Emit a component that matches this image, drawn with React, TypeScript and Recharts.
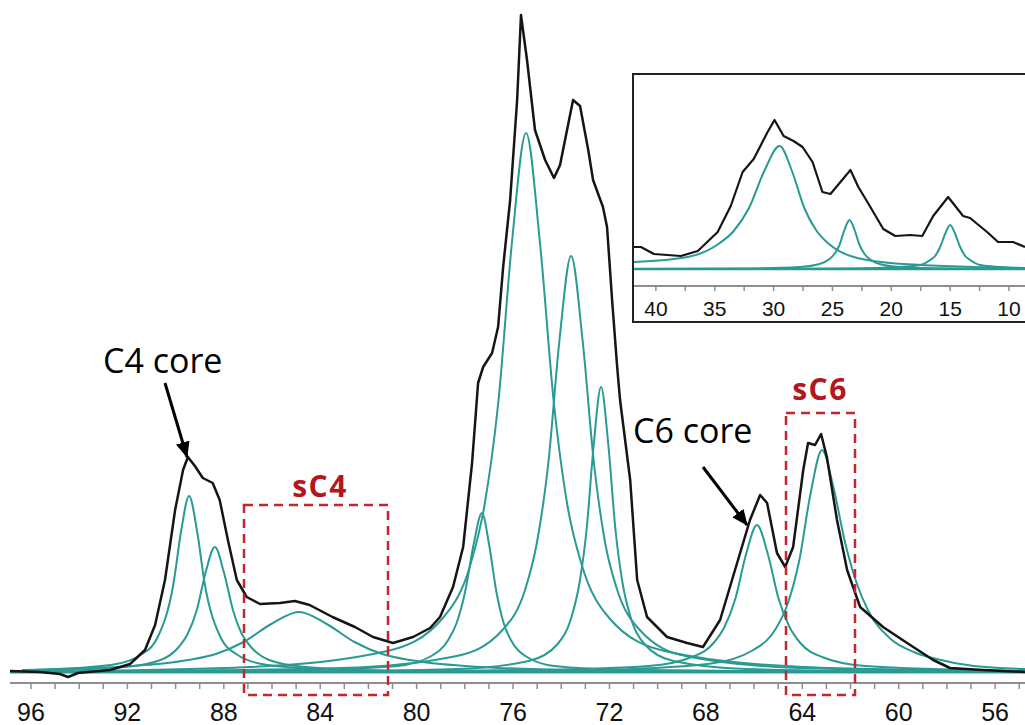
import { ComposedChart, Line, XAxis, YAxis } from 'recharts';

type Pt = [number, number];

// main spectrum, ppm vs intensity (baseline = 0)
const mainSpectrum: Pt[] = [
  [96.87, 1], [95.63, 0], [94.8, -2], [94.46, -5], [94.05, -1], [92.72, 2], [91.89, 8],
  [91.27, 22], [90.85, 47], [90.44, 92], [90.02, 162], [89.69, 202], [89.49, 215], [89.2, 206],
  [88.87, 194], [88.46, 189], [88.17, 172], [87.83, 132], [87.46, 92], [87.05, 75], [86.5, 68],
  [85.67, 69], [85.05, 71], [84.44, 67], [83.49, 55], [82.56, 45], [81.81, 35], [80.98, 29],
  [80.15, 35], [79.44, 44], [79.03, 55], [78.49, 85], [78.07, 125], [77.7, 209], [77.45, 289],
  [77.24, 305], [76.87, 319], [76.62, 345], [76.41, 405], [76.12, 472], [75.83, 572], [75.67, 657],
  [75.42, 612], [75.09, 542], [74.67, 512], [74.3, 494], [74.05, 507], [73.51, 572], [73.22, 566],
  [72.88, 522], [72.68, 492], [72.27, 465], [72.1, 445], [71.89, 372], [71.68, 305], [71.56, 272],
  [71.14, 192], [70.85, 92], [70.44, 55], [69.61, 35], [68.78, 29], [68.12, 25], [67.41, 52],
  [66.58, 119], [66.17, 152], [65.75, 177], [65.46, 169], [65.05, 119], [64.71, 105], [64.38, 125],
  [63.96, 202], [63.76, 229], [63.47, 227], [63.22, 238], [62.98, 215], [62.56, 152], [62.14, 102],
  [61.6, 65], [60.65, 45], [59.65, 29], [58.57, 12], [57.87, 4], [56.5, 2], [54.76, 0],
];

// fitted components
const fitC4a: Pt[] = [
  [95.94, 2], [92.69, 7], [91.39, 18], [90.74, 35], [90.09, 88], [89.77, 141], [89.44, 176],
  [89.11, 141], [88.79, 88], [88.14, 35], [87.49, 18], [86.19, 7], [82.94, 2], [76, 0],
];
const fitC4b: Pt[] = [
  [95.87, 1], [92.12, 5], [90.62, 12], [89.87, 25], [89.5, 38], [89.12, 62], [88.75, 100],
  [88.37, 125], [88.0, 100], [87.62, 62], [87.25, 38], [86.87, 25], [86.12, 12], [84.62, 5],
  [80.87, 1], [74, 0],
];
const fitSC4: Pt[] = [
  [96.38, 2], [91.78, 6], [89.48, 12], [88.33, 18], [87.18, 30], [86.03, 48], [84.88, 60],
  [83.73, 48], [82.58, 30], [81.43, 18], [80.28, 12], [77.98, 6], [73.38, 2], [60, 0],
];
const fitC23a: Pt[] = [
  [90, 0], [84.29, 2], [80.79, 6], [79.39, 16], [78.69, 32], [78.34, 49], [77.99, 80], [77.64, 127],
  [77.29, 159], [76.99, 127], [76.69, 80], [76.39, 49], [76.09, 32], [75.49, 16], [74.29, 6],
  [71.29, 2], [62, 0],
];
const fitC23b: Pt[] = [
  [94, 1], [86.96, 5], [81.21, 21], [78.91, 54], [77.76, 108], [77.19, 166], [76.61, 270],
  [76.04, 431], [75.46, 539], [74.89, 431], [74.31, 270], [73.74, 166], [73.16, 108], [72.01, 54],
  [69.71, 21], [63.96, 5], [56, 1],
];
const fitC23c: Pt[] = [
  [92, 1], [83.09, 4], [78.34, 16], [76.44, 42], [75.49, 83], [75.02, 128], [74.54, 208],
  [74.07, 333], [73.59, 416], [73.12, 333], [72.64, 208], [72.17, 128], [71.69, 83], [70.74, 42],
  [68.84, 16], [64.09, 4], [56, 1],
];
const fitC5: Pt[] = [
  [86, 0], [78.35, 3], [75.35, 11], [74.15, 28], [73.55, 57], [73.25, 88], [72.95, 142], [72.65, 228],
  [72.35, 285], [72.05, 228], [71.75, 142], [71.45, 88], [71.15, 57], [70.55, 28], [69.35, 11],
  [66.35, 3], [58, 0],
];
const fitC6: Pt[] = [
  [84, 0], [74.88, 2], [70.38, 6], [68.58, 15], [67.68, 29], [67.23, 45], [66.78, 73], [66.33, 118],
  [65.88, 147], [65.43, 118], [64.98, 73], [64.53, 45], [64.08, 29], [63.18, 15], [61.38, 6],
  [56.88, 2], [54.76, 1],
];
const fitSC6: Pt[] = [
  [82, 0], [72.68, 2], [67.93, 8], [66.03, 22], [65.08, 44], [64.61, 68], [64.13, 111], [63.66, 178],
  [63.18, 222], [62.71, 185], [62.23, 130], [61.76, 90], [61.28, 62], [60.33, 33], [59.38, 20],
  [58.43, 13], [56.88, 6], [54.76, 3],
];
const mainBaseline: Pt[] = [[96.87, 0], [54.76, 0]];
const mainFits = [fitC4a, fitC4b, fitSC4, fitC23a, fitC23b, fitC23c, fitC5, fitC6, fitSC6];

const mainTicks = Array.from({ length: 42 }, (_, i) => 55 + i);
const mainLabels = [96, 92, 88, 84, 80, 76, 72, 68, 64, 60, 56];

// inset: alkyl region
const insetSpectrum: Pt[] = [
  [41.86, 22], [41.27, 22], [40.17, 15], [37.88, 13], [36.44, 18], [34.75, 37], [33.64, 63],
  [32.63, 97], [31.69, 110], [30.51, 137], [29.92, 149], [29.15, 133], [28.31, 128], [27.54, 122],
  [26.69, 107], [25.85, 77], [25.17, 75], [23.47, 99], [22.8, 82], [22.03, 67], [20.68, 40],
  [19.66, 33], [18.39, 34], [17.37, 33], [16.44, 53], [15.17, 72], [13.9, 53], [13.31, 51],
  [11.86, 37], [10.93, 27], [9.66, 27], [8.64, 22],
];
const insetFitA: Pt[] = [
  [41.86, 7], [37.29, 12], [34.69, 25], [33.39, 38], [32.09, 61], [30.79, 98], [29.49, 123],
  [28.44, 98], [27.39, 61], [26.34, 38], [25.29, 25], [23.19, 12], [18.99, 5], [8.64, 1],
];
const insetFitB: Pt[] = [
  [41.86, 0], [32.05, 0.5], [27.8, 2], [26.1, 5], [25.25, 10], [24.83, 15], [24.4, 24], [23.98, 39],
  [23.55, 49], [23.12, 39], [22.7, 24], [22.27, 15], [21.85, 10], [21.0, 5], [19.3, 2],
  [15.05, 0.5], [8.64, 0],
];
const insetFitC: Pt[] = [
  [35, 0], [23.5, 0.5], [19.25, 2], [17.55, 4], [16.7, 9], [16.28, 13], [15.85, 22], [15.43, 35],
  [15.0, 44], [14.57, 35], [14.15, 22], [13.72, 13], [13.3, 9], [12.45, 4], [10.75, 2], [8.64, 1],
];
const insetBaseline: Pt[] = [[41.86, 0], [8.64, 0]];
const insetFits = [insetFitA, insetFitB, insetFitC];

const insetTicks = [10, 12.5, 15, 17.5, 20, 22.5, 25, 27.5, 30, 32.5, 35, 37.5, 40];
const insetLabels = [10, 15, 20, 25, 30, 35, 40];

const TEAL = '#2a9a94';
const BLACK = '#151515';
const RED = '#c4262e';
const AXIS = '#8e8e8e';

const toRows = (pts: Pt[]) => pts.map(([ppm, v]) => ({ ppm, v }));

const MainTick = (props: any) => {
  const { x, y, payload } = props;
  const v = payload.value;
  return (
    <g>
      <line x1={x} x2={x} y1={y} y2={y + 6} stroke={AXIS} strokeWidth={1.5} />
      {mainLabels.includes(v) && (
        <text x={x} y={y + 38} textAnchor="middle" fontSize={25} fill="#111"
          fontFamily="'Liberation Sans', Arial, sans-serif">{v}</text>
      )}
    </g>
  );
};

const InsetTick = (props: any) => {
  const { x, y, payload } = props;
  const v = payload.value;
  return (
    <g>
      <line x1={x} x2={x} y1={y} y2={y + 5} stroke={AXIS} strokeWidth={1.5} />
      {insetLabels.includes(v) && (
        <text x={x} y={y + 30} textAnchor="middle" fontSize={21} fill="#111"
          fontFamily="'Liberation Sans', Arial, sans-serif">{v}</text>
      )}
    </g>
  );
};

export default function App() {
  const font = "'Open Sans', 'Noto Sans', sans-serif";
  return (
    <div style={{ position: 'absolute', left: 0, top: 0, width: 1025, height: 725, overflow: 'hidden', background: '#fff' }}>
      <ComposedChart width={1025} height={725} margin={{ top: 10, right: 0, left: 10, bottom: 0 }}>
        <XAxis type="number" dataKey="ppm" domain={[54.76, 96.87]} reversed allowDataOverflow
          ticks={mainTicks} interval={0} tickSize={0} tickMargin={0} height={42}
          stroke={AXIS} strokeWidth={2} tick={<MainTick />} />
        <YAxis type="number" dataKey="v" domain={[-11, 662]} hide allowDataOverflow />
        <Line data={toRows(mainBaseline)} dataKey="v" type="linear" stroke={TEAL} strokeWidth={3}
          dot={false} activeDot={false} isAnimationActive={false} />
        {mainFits.map((f, i) => (
          <Line key={`fit-${i}`} data={toRows(f)} dataKey="v" type="monotone" stroke={TEAL} strokeWidth={2}
            dot={false} activeDot={false} isAnimationActive={false} />
        ))}
        <Line data={toRows(mainSpectrum)} dataKey="v" type="linear" stroke={BLACK} strokeWidth={2.5}
          strokeLinejoin="round" dot={false} activeDot={false} isAnimationActive={false} />
      </ComposedChart>

      {/* annotations */}
      <svg width={1025} height={725} style={{ position: 'absolute', left: 0, top: 0, pointerEvents: 'none' }}>
        <defs>
          <marker id="head" markerUnits="userSpaceOnUse" markerWidth={16} markerHeight={14}
            refX={15} refY={7} orient="auto">
            <path d="M0,0 L16,7 L0,14 z" fill="#000" />
          </marker>
        </defs>
        <text x={103} y={373} fontSize={34} fontFamily={font} fill="#000">C4 core</text>
        <line x1={165} y1={383} x2={187} y2={457} stroke="#000" strokeWidth={3} markerEnd="url(#head)" />
        <text x={633} y={443} fontSize={34} fontFamily={font} fill="#000">C6 core</text>
        <line x1={703} y1={467} x2={747} y2={525} stroke="#000" strokeWidth={3} markerEnd="url(#head)" />

        <text x={320} y={497} textAnchor="middle" fontSize={30} fontWeight="bold" letterSpacing={1.5}
          fontFamily={font} fill="#b3161d">sC4</text>
        <rect x={244} y={505} width={144} height={190} fill="none" stroke={RED} strokeWidth={2.5}
          strokeDasharray="9 6" />
        <text x={820} y={400} textAnchor="middle" fontSize={30} fontWeight="bold" letterSpacing={1.5}
          fontFamily={font} fill="#b3161d">sC6</text>
        <rect x={786} y={413} width={69} height={282} fill="none" stroke={RED} strokeWidth={2.5}
          strokeDasharray="9 6" />
      </svg>

      {/* inset */}
      <div style={{ position: 'absolute', left: 632, top: 73, width: 393, height: 250, boxSizing: 'border-box',
        border: '2px solid #222', borderRight: 'none', background: '#fff' }} />
      <div style={{ position: 'absolute', left: 634, top: 75 }}>
        <ComposedChart width={391} height={246} margin={{ top: 0, right: 0, left: 0, bottom: 0 }}
          style={{ overflow: 'visible' }}>
          <XAxis type="number" dataKey="ppm" domain={[8.64, 41.86]} reversed allowDataOverflow
            ticks={insetTicks} interval={0} tickSize={0} tickMargin={0} height={35}
            stroke={AXIS} strokeWidth={2} tick={<InsetTick />} />
          <YAxis type="number" dataKey="v" domain={[-17, 194]} hide allowDataOverflow />
          <Line data={toRows(insetBaseline)} dataKey="v" type="linear" stroke={TEAL} strokeWidth={2.5}
            dot={false} activeDot={false} isAnimationActive={false} />
          {insetFits.map((f, i) => (
            <Line key={`ifit-${i}`} data={toRows(f)} dataKey="v" type="monotone" stroke={TEAL} strokeWidth={2}
              dot={false} activeDot={false} isAnimationActive={false} />
          ))}
          <Line data={toRows(insetSpectrum)} dataKey="v" type="linear" stroke={BLACK} strokeWidth={2.2}
            strokeLinejoin="round" dot={false} activeDot={false} isAnimationActive={false} />
        </ComposedChart>
      </div>
    </div>
  );
}
